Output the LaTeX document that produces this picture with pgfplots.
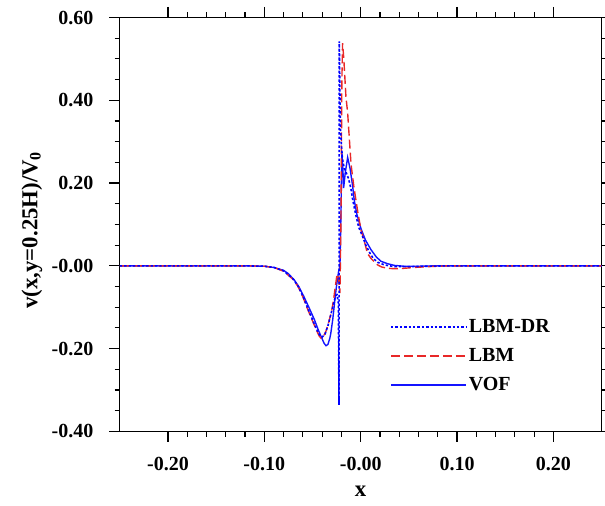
\documentclass[border=0pt]{standalone}
\usepackage{fontspec}
\setmainfont{Liberation Serif}
\usepackage{pgfplots}
\pgfplotsset{compat=1.18}

\definecolor{lbmred}{RGB}{232,40,40}
\definecolor{vofblue}{RGB}{20,20,255}

\begin{document}
\begin{tikzpicture}
\begin{axis}[
  scale only axis,
  width=241pt, height=207pt,
  xmin=-0.25, xmax=0.25,
  ymin=-0.4, ymax=0.6,
  xtick={-0.2,-0.1,0,0.1,0.2},
  xticklabels={-0.20,-0.10,-0.00,0.10,0.20},
  ytick={-0.4,-0.2,0,0.2,0.4,0.6},
  yticklabels={-0.40,-0.20,-0.00,0.20,0.40,0.60},
  minor x tick num=4,
  minor y tick num=3,
  tick align=outside,
  major tick length=5.3pt,
  minor tick length=2.6pt,
  tick style={black, line width=0.6pt},
  axis line style={line width=0.6pt},
  ticklabel style={font=\fontsize{10}{12}\selectfont\bfseries},
  xticklabel shift=3.9pt,
  yticklabel shift=4.4pt,
  xlabel={x},
  ylabel={v(x,y=0.25H)/V\textsubscript{0}},
  label style={font=\fontsize{11.4}{13}\selectfont\bfseries},
  xlabel style={at={(rel axis cs:0.5,0)}, anchor=base, yshift=-32.7pt},
  ylabel style={at={(rel axis cs:0,0.487)}, anchor=center, yshift=43.9pt},
  legend style={draw=none, fill=none, at={(rel axis cs:0.548,0.292)}, anchor=north west,
    font=\fontsize{10}{12}\selectfont\bfseries, row sep=2.5pt,
    nodes={inner xsep=1pt}},
  legend cell align=left,
  legend image code/.code={\draw[#1] (0pt,0pt) -- (37.5pt,0pt);},
]
\addlegendimage{blue, line width=0.8pt, dash pattern=on 1.2pt off 1pt}
\addlegendentry{LBM-DR}
\addlegendimage{lbmred, line width=0.7pt, dash pattern=on 4.5pt off 2pt}
\addlegendentry{LBM}
\addlegendimage{vofblue, line width=0.75pt}
\addlegendentry{VOF}
% VOF
\addplot[vofblue, line width=0.7pt, forget plot] coordinates {
(-0.25,0) (-0.12,0) (-0.10,-0.001) (-0.09,-0.004) (-0.08,-0.011) (-0.075,-0.019)
(-0.069,-0.034) (-0.064,-0.051) (-0.059,-0.074) (-0.054,-0.099) (-0.048,-0.130)
(-0.044,-0.155) (-0.041,-0.171) (-0.038,-0.187) (-0.036,-0.193) (-0.034,-0.190)
(-0.032,-0.175) (-0.031,-0.163) (-0.029,-0.130) (-0.0275,-0.098) (-0.026,-0.066)
(-0.0247,-0.042) (-0.023,-0.015) (-0.0215,0.000) (-0.0205,0.12) (-0.0195,0.276)
(-0.0185,0.235) (-0.0177,0.188) (-0.016,0.225) (-0.0135,0.262) (-0.011,0.235)
(-0.0083,0.192) (-0.0067,0.159) (-0.004,0.125) (0.0003,0.090) (0.005,0.062)
(0.0107,0.039) (0.016,0.022) (0.021,0.011) (0.028,0.005) (0.035,0.001)
(0.045,-0.001) (0.06,-0.001) (0.08,0) (0.25,0)
};
% LBM
\addplot[lbmred, line width=0.7pt, dash pattern=on 4.5pt off 2pt, forget plot] coordinates {
(-0.25,0) (-0.12,0) (-0.10,-0.001) (-0.09,-0.004) (-0.08,-0.013) (-0.07,-0.033)
(-0.065,-0.050) (-0.06,-0.075) (-0.055,-0.105) (-0.050,-0.133) (-0.046,-0.155)
(-0.043,-0.170) (-0.041,-0.175) (-0.039,-0.172) (-0.036,-0.158) (-0.033,-0.135)
(-0.030,-0.108) (-0.028,-0.080) (-0.026,-0.045) (-0.0245,-0.020) (-0.023,-0.030)
(-0.0215,-0.066) (-0.0205,0.10) (-0.0195,0.45) (-0.0188,0.538) (-0.0175,0.500)
(-0.0153,0.409) (-0.0135,0.369) (-0.010,0.245) (-0.007,0.190) (-0.005,0.160)
(-0.003,0.130) (0.0003,0.087) (0.004,0.058) (0.007,0.030) (0.011,0.017)
(0.014,0.010) (0.0177,0.002) (0.022,-0.003) (0.028,-0.006) (0.035,-0.007)
(0.045,-0.006) (0.055,-0.004) (0.07,-0.002) (0.09,0) (0.25,0)
};
% LBM-DR
\addplot[blue, line width=0.8pt, dash pattern=on 1.2pt off 1pt, forget plot] coordinates {
(-0.25,0) (-0.12,0) (-0.10,-0.001) (-0.09,-0.004) (-0.08,-0.012) (-0.07,-0.032)
(-0.065,-0.049) (-0.06,-0.073) (-0.055,-0.102) (-0.050,-0.130) (-0.046,-0.152)
(-0.043,-0.166) (-0.040,-0.172) (-0.037,-0.165) (-0.034,-0.145) (-0.031,-0.118)
(-0.028,-0.090) (-0.026,-0.072) (-0.0245,-0.070) (-0.0232,-0.090) (-0.0225,-0.336)
(-0.0222,0.542) (-0.021,0.330) (-0.019,0.260) (-0.017,0.235) (-0.015,0.225)
(-0.0125,0.210) (-0.010,0.185) (-0.0083,0.160) (-0.005,0.122) (-0.002,0.093)
(0.002,0.071) (0.005,0.052) (0.009,0.033) (0.013,0.018) (0.018,0.008)
(0.025,0.002) (0.035,-0.002) (0.05,-0.002) (0.07,-0.001) (0.09,0) (0.25,0)
};
\end{axis}
\path (current axis.south west) ++(-59.9pt,-37.2pt) coordinate (bbA);
\path (current axis.north east) ++(1.7pt,8.75pt) coordinate (bbB);
\pgfresetboundingbox
\path[use as bounding box] (bbA) rectangle (bbB);
\end{tikzpicture}
\end{document}
